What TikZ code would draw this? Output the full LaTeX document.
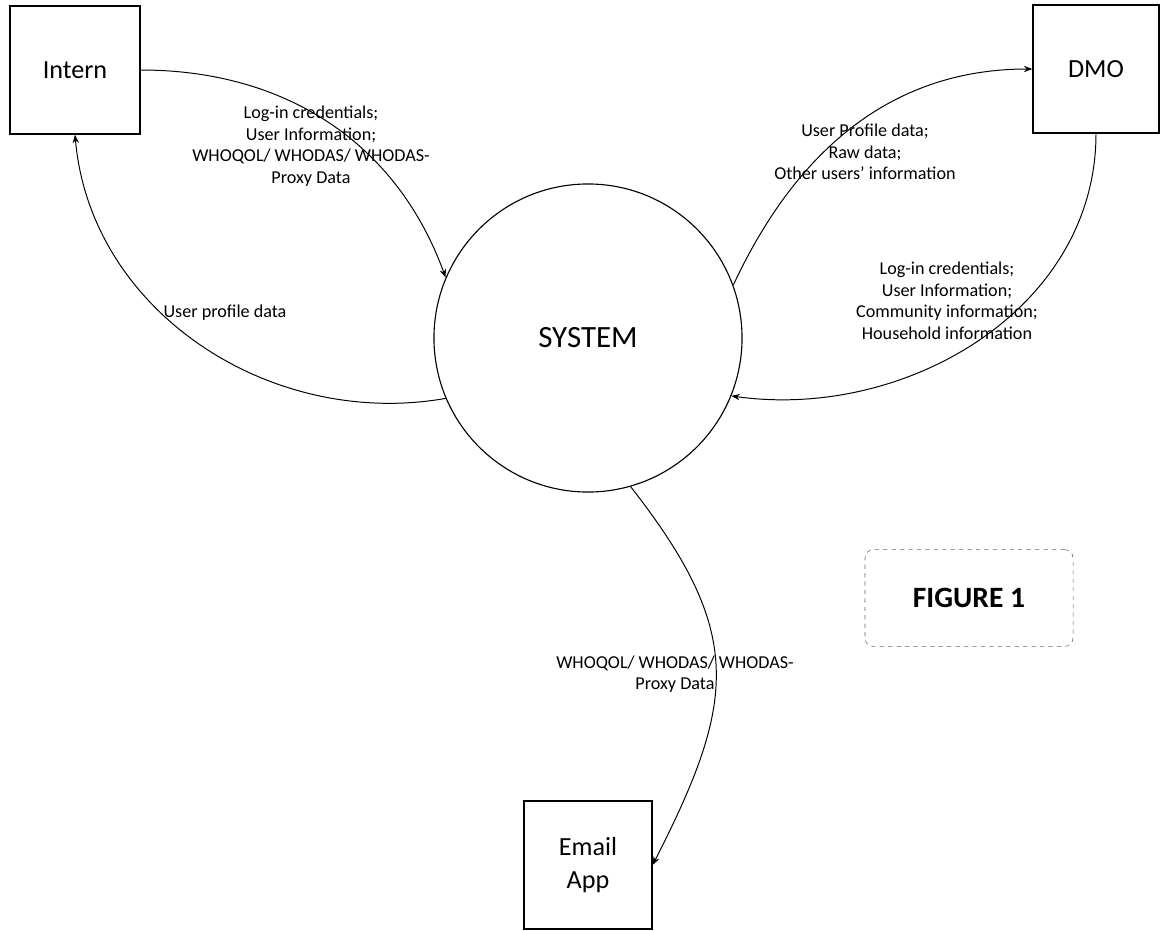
\documentclass[tikz,border=0pt]{standalone}
\usepackage{fontspec}
\setmainfont{Carlito}
\usetikzlibrary{arrows.meta}

\begin{document}
\begin{tikzpicture}[x=0.025cm,y=-0.025cm,>={Stealth[length=6pt,width=4.5pt]},
    ext/.style={draw,line width=0.9pt,rectangle,minimum width=3.2cm,minimum height=3.2cm,align=center,font=\fontsize{18.6}{24}\selectfont},
    proc/.style={draw,line width=0.8pt,circle,minimum size=7.7cm,font=\fontsize{22}{26}\selectfont},
    flow/.style={align=center,font=\fontsize{12.9}{15.3}\selectfont},
    note/.style={draw=black!60,dashed,rounded corners=6pt,minimum width=5.2cm,minimum height=2.42cm,font=\fontsize{21}{25}\selectfont\bfseries}]
   \useasboundingbox (0,0) rectangle (1160,930);
   \node[ext,minimum width=3.25cm] (intern) at (75,70) {Intern};
   \node[ext,minimum width=3.15cm] (dmo) at (1096,69) {DMO};
   \node[ext] (email) at (588,865) {Email\\App};
   \node[proc] (sys) at (588,338) {SYSTEM};
   \node[note] (fig) at (969,598) {FIGURE 1};
   \node[flow] (l1) at (311,146) {Log-in credentials;\\User Information;\\WHOQOL/ WHODAS/ WHODAS-\\Proxy Data};
   \node[flow] (l2) at (225,313) {User profile data};
   \node[flow] (l3) at (865,152) {User Profile data;\\Raw data;\\Other users' information};
   \node[flow] (l4) at (947,301) {Log-in credentials;\\User Information;\\Community information;\\Household information};
   \node[flow] (l5) at (675,674) {WHOQOL/ WHODAS/ WHODAS-\\Proxy Data};
   \path[->,line width=0.7pt]
    (intern.east) edge[out=0,in=110]    (sys.157)
    (sys.203)     edge[out=190,in=-85]  (intern.south)
    (sys.20)      edge[out=65,in=180]   (dmo.west)
    (dmo.south)   edge[out=-90,in=-8]   (sys.-22)
    (sys.-74)     edge[out=-52,in=63,looseness=1.25] (email.east)
    ;
\end{tikzpicture}
\end{document}
